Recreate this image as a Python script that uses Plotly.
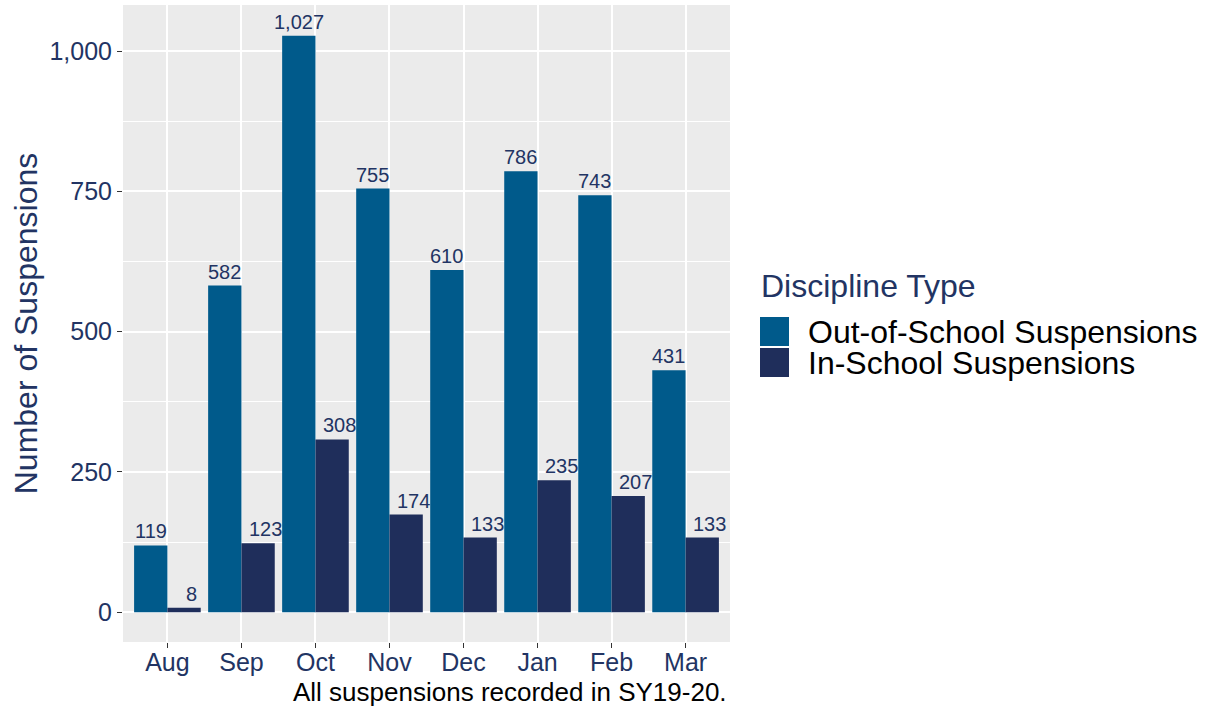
import plotly.graph_objects as go

months = ["Aug", "Sep", "Oct", "Nov", "Dec", "Jan", "Feb", "Mar"]
series_names = ["Out-of-School Suspensions", "In-School Suspensions"]
oss = [119, 582, 1027, 755, 610, 786, 743, 431]
iss = [8, 123, 308, 174, 133, 235, 207, 133]
colors = ["#005A8B", "#1F2E5B"]
navy = "#223463"
FONT = "Liberation Sans, Arial"

W, H = 1212, 713
ML, MR, MT, MB = 123, 482, 5, 71
pw = W - ML - MR
ph = H - MT - MB
def px_x(p): return (p - ML) / pw
def px_y(p): return (H - MB - p) / ph

fig = go.Figure()
for name, vals, col in zip(series_names, [oss, iss], colors):
    fig.add_trace(go.Bar(x=months, y=vals, name=name, marker=dict(color=col, line=dict(width=0)),
                         showlegend=False))

# value labels
for k, vals in enumerate([oss, iss]):
    off = -0.225 if k == 0 else 0.225
    xs = 0 if k == 0 else 7
    for i, v in enumerate(vals):
        fig.add_annotation(x=i + off, y=v, xref="x", yref="y", text=f"{v:,}", showarrow=False,
                           yanchor="bottom", yshift=1, xshift=xs,
                           font=dict(family=FONT, size=20, color=navy))

# caption
fig.add_annotation(x=px_x(729), y=px_y(692), xref="paper", yref="paper",
                   text="All suspensions recorded in SY19-20.", showarrow=False,
                   xanchor="right", yanchor="middle",
                   font=dict(family=FONT, size=26, color="black"))

fig.update_layout(
    width=W, height=H,
    margin=dict(l=ML, r=MR, t=MT, b=MB),
    paper_bgcolor="white", plot_bgcolor="#EBEBEB",
    bargap=0.1, bargroupgap=0, barmode="group",
    font=dict(family=FONT, color=navy),
    showlegend=False,
)
fig.update_xaxes(range=[-0.6, 7.6], showgrid=True, gridcolor="white", gridwidth=1.8,
                 ticks="outside", ticklen=5, tickcolor="#333333", tickwidth=1.2,
                 ticklabelstandoff=-7,
                 tickfont=dict(size=25, color=navy), zeroline=False, showline=False)
fig.update_yaxes(range=[-53, 1082], tickvals=[0, 250, 500, 750, 1000], tickformat=",",
                 showgrid=True, gridcolor="white", gridwidth=1.8,
                 minor=dict(tickvals=[125, 375, 625, 875], showgrid=True, gridcolor="white", gridwidth=0.8),
                 ticks="outside", ticklen=5, tickcolor="#333333", tickwidth=1.2,
                 tickfont=dict(size=25, color=navy), zeroline=False, showline=False,
                 title=dict(text="Number of Suspensions", font=dict(size=32, color=navy), standoff=2))

# custom legend (paper coordinates)
fig.add_annotation(x=px_x(759), y=px_y(286), xref="paper", yref="paper", text="Discipline Type",
                   showarrow=False, xanchor="left", yanchor="middle",
                   font=dict(family=FONT, size=32, color=navy))
for j, (name, col) in enumerate(zip(series_names, colors)):
    top = 317 + j * 31
    fig.add_shape(type="rect", xref="paper", yref="paper",
                  x0=px_x(760), x1=px_x(789), y0=px_y(top), y1=px_y(top + 29),
                  fillcolor=col, line=dict(width=0))
    fig.add_annotation(x=px_x(806), y=px_y(top + 15), xref="paper", yref="paper", text=name,
                       showarrow=False, xanchor="left", yanchor="middle",
                       font=dict(family=FONT, size=32, color="black"))

fig.write_html("out.html", config={"displayModeBar": False},
               post_script="document.body.style.margin='0';document.body.style.overflow='hidden';")
